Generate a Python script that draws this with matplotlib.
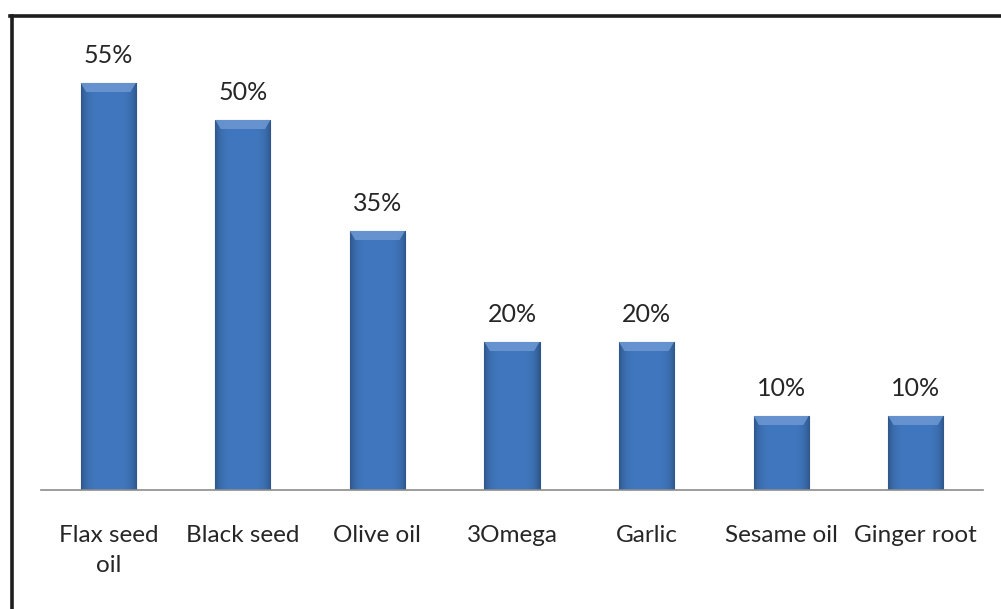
import matplotlib
matplotlib.use("Agg")
import matplotlib.pyplot as plt
import numpy as np
from matplotlib.patches import Polygon
from matplotlib.lines import Line2D

categories = ["Flax seed\noil", "Black seed", "Olive oil", "3Omega", "Garlic", "Sesame oil", "Ginger root"]
values = [55, 50, 35, 20, 20, 10, 10]
labels = ["55%", "50%", "35%", "20%", "20%", "10%", "10%"]

plt.rcParams['font.family'] = ['Lato', 'DejaVu Sans']
W, H = 1001, 609
fig = plt.figure(figsize=(W/100, H/100), dpi=100)
fig.patch.set_facecolor('white')

# frame lines (top and left)
fig.add_artist(Line2D([10/W, 1.0], [1-15.5/H, 1-15.5/H], color='#1e1e1e', lw=2.6, transform=fig.transFigure))
fig.add_artist(Line2D([11.5/W, 11.5/W], [0, 1-15.5/H], color='#1e1e1e', lw=2.6, transform=fig.transFigure))

left, right, base, top = 41, 983, 490, 20
ax = fig.add_axes([left/W, (H-base)/H, (right-left)/W, (base-top)/H])
ax.set_xlim(-0.5, len(values)-0.5)
ppu = 7.4
ax.set_ylim(0, (base-top)/ppu)
for s in ['top', 'right', 'left']:
    ax.spines[s].set_visible(False)
ax.spines['bottom'].set_color('#8c8c8c')
ax.spines['bottom'].set_linewidth(1.2)
ax.set_yticks([])
x = np.arange(len(values))
ax.set_xticks(x)
ax.set_xticklabels(categories, fontsize=17.5, color='#262626', linespacing=1.55)
ax.tick_params(axis='x', length=0, pad=25)

bw = 0.41
bars = ax.bar(x, values, width=bw, color='#3c70b6', edgecolor='#2a568f', linewidth=0.8, zorder=2)

# horizontal shading gradient inside bars
prof = np.linspace(-1, 1, 200)
shade = 1 - 0.28*np.abs(prof)**5
base_rgb = np.array([0x40, 0x77, 0xbe])/255.0
img = np.clip(base_rgb[None, None, :]*shade[None, :, None], 0, 1)
for b, v in zip(bars, values):
    im = ax.imshow(img, extent=[b.get_x(), b.get_x()+b.get_width(), 0, v], aspect='auto', zorder=2.5, interpolation='bilinear')
    im.set_clip_path(b)
    # top bevel
    bev_h = 9/ppu
    inset = 0.1*b.get_width()
    poly = Polygon([[b.get_x(), v], [b.get_x()+b.get_width(), v],
                    [b.get_x()+b.get_width()-inset, v-bev_h], [b.get_x()+inset, v-bev_h]],
                   closed=True, facecolor='#6d99d3', edgecolor='none', zorder=3, alpha=0.85)
    ax.add_patch(poly)
    ax.text(b.get_x()+b.get_width()/2, v + 16/ppu, f"{v}%", ha='center', va='bottom', fontsize=18, color='#262626')

ax.set_xlim(-0.5, len(values)-0.5)
fig.savefig('out.png', dpi=100, facecolor='white')
